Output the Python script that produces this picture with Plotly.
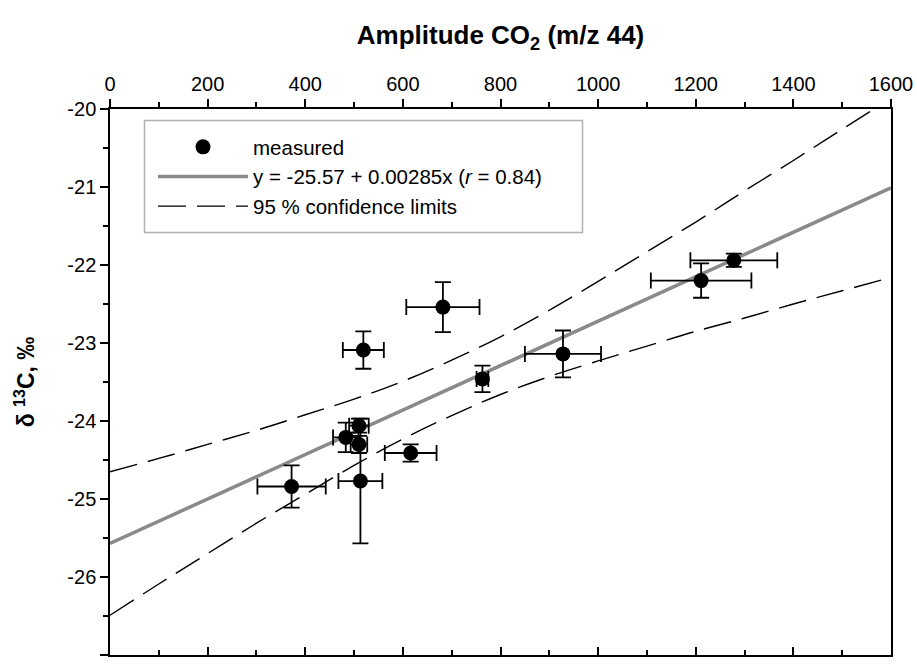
import plotly.graph_objects as go

# ---- data ----
amp_x = [372, 483, 510, 510, 513, 519, 616, 682, 763, 928, 1211, 1278]
d13c_y = [-24.84, -24.21, -24.06, -24.30, -24.77, -23.09, -24.41, -22.54, -23.46, -23.14, -22.20, -21.94]
amp_err = [70, 26, 20, 17, 45, 42, 53, 75, 12, 78, 103, 89]
d13c_err = [0.27, 0.19, 0.09, 0.11, 0.80, 0.24, 0.11, 0.32, 0.17, 0.30, 0.22, 0.085]

fit_intercept = -25.57
fit_slope = 0.00285
fit_x = [0, 1600]

band_x = [0, 100, 200, 300, 400, 500, 600, 700, 800, 900, 1000, 1100, 1200, 1300, 1400, 1500, 1600]
band_upper = [-24.65, -24.48, -24.30, -24.12, -23.92, -23.72, -23.49, -23.22, -22.92, -22.58,
              -22.21, -21.83, -21.45, -21.05, -20.66, -20.26, -19.86]
band_lower = [-26.49, -26.09, -25.70, -25.31, -24.94, -24.57, -24.23, -23.93, -23.66, -23.43,
              -23.23, -23.04, -22.85, -22.68, -22.50, -22.33, -22.16]

x_ticks = [0, 200, 400, 600, 800, 1000, 1200, 1400, 1600]
y_ticks = [-27, -26, -25, -24, -23, -22, -21, -20]
y_tick_labels = ["-27", "-26", "-25", "-24", "-23", "-22", "-21", "-20"]

FONT = "Arial, Liberation Sans, sans-serif"

fig = go.Figure()

fig.add_trace(go.Scatter(
    x=fit_x, y=[fit_intercept + fit_slope * v for v in fit_x],
    mode="lines", line=dict(color="#8a8a8a", width=3.5),
    name="y = -25.57 + 0.00285x (<i>r</i> = 0.84)", legendrank=2,
))
fig.add_trace(go.Scatter(
    x=band_x, y=band_upper, mode="lines",
    line=dict(color="black", width=1.4, dash="28px,11px", shape="spline"),
    name="95 % confidence limits", legendgroup="ci", legendrank=3,
))
fig.add_trace(go.Scatter(
    x=band_x, y=band_lower, mode="lines",
    line=dict(color="black", width=1.4, dash="28px,11px", shape="spline"),
    name="95 % confidence limits", legendgroup="ci", showlegend=False,
))
fig.add_trace(go.Scatter(
    x=amp_x, y=d13c_y, mode="markers",
    marker=dict(color="black", size=15),
    error_x=dict(type="data", array=amp_err, color="black", thickness=1.8, width=8),
    error_y=dict(type="data", array=d13c_err, color="black", thickness=1.8, width=8),
    name="measured", legendrank=1,
))
# invisible trace for bottom axis
fig.add_trace(go.Scatter(x=[0], y=[-27], xaxis="x2", mode="markers",
                         marker=dict(opacity=0), showlegend=False, hoverinfo="skip"))

W, H = 917, 664
L, R, T, B = 110, 26, 109, 9
pw, ph = W - L - R, H - T - B

def px(xp):
    return (xp - L) / pw

def py(yp):
    return (H - B - yp) / ph

fig.update_layout(
    template="simple_white",
    width=W, height=H,
    margin=dict(l=L, r=R, t=T, b=B, autoexpand=False),
    paper_bgcolor="white", plot_bgcolor="white",
    font=dict(family=FONT, size=20, color="black"),
    title=dict(text="<b>Amplitude CO<sub>2</sub> (m/z 44)</b>", font=dict(size=26, family=FONT),
               x=0.5, xref="paper", xanchor="center",
               y=1 - 35 / H, yref="container", yanchor="middle"),
    showlegend=True,
    legend=dict(
        x=px(153), y=py(127), xanchor="left", yanchor="top",
        bgcolor="rgba(0,0,0,0)", borderwidth=0,
        font=dict(size=20.5, family=FONT, color="black"),
        tracegroupgap=0, itemwidth=90,
    ),
    xaxis=dict(
        side="top", range=[0, 1600], tickvals=x_ticks, automargin=False,
        ticks="outside", ticklen=8, tickwidth=1.5, tickcolor="black",
        minor=dict(dtick=100, ticks="outside", ticklen=5, tickwidth=1.5, tickcolor="black"),
        showline=True, linecolor="black", linewidth=1.5,
        showgrid=False, zeroline=False,
        tickfont=dict(size=20), ticklabelstandoff=0,
    ),
    xaxis2=dict(
        overlaying="x", side="bottom", range=[0, 1600], tickvals=x_ticks, automargin=False,
        ticks="inside", ticklen=8, tickwidth=1.5, tickcolor="black",
        minor=dict(dtick=100, ticks="inside", ticklen=5, tickwidth=1.5, tickcolor="black"),
        showline=True, linecolor="black", linewidth=1.5,
        showticklabels=False, showgrid=False, zeroline=False,
    ),
    yaxis=dict(
        range=[-27, -20], tickvals=y_ticks, ticktext=y_tick_labels, automargin=False,
        ticks="outside", ticklen=8, tickwidth=1.5, tickcolor="black",
        minor=dict(dtick=0.5, ticks="outside", ticklen=5, tickwidth=1.5, tickcolor="black"),
        showline=True, linecolor="black", linewidth=1.5, mirror=True,
        showgrid=False, zeroline=False,
        tickfont=dict(size=20),
        title=dict(text="<b>δ <sup>13</sup>C, ‰</b>", font=dict(size=23), standoff=26),
    ),
    shapes=[dict(type="rect", xref="paper", yref="paper",
                 x0=px(144.5), x1=px(582.5), y0=py(232.5), y1=py(120.5),
                 line=dict(color="black", width=1.5), fillcolor="rgba(0,0,0,0)", layer="above")],
)

fig.write_html("out.html", config={"displayModeBar": False},
               post_script="document.body.style.margin='0';document.body.style.padding='0';")
